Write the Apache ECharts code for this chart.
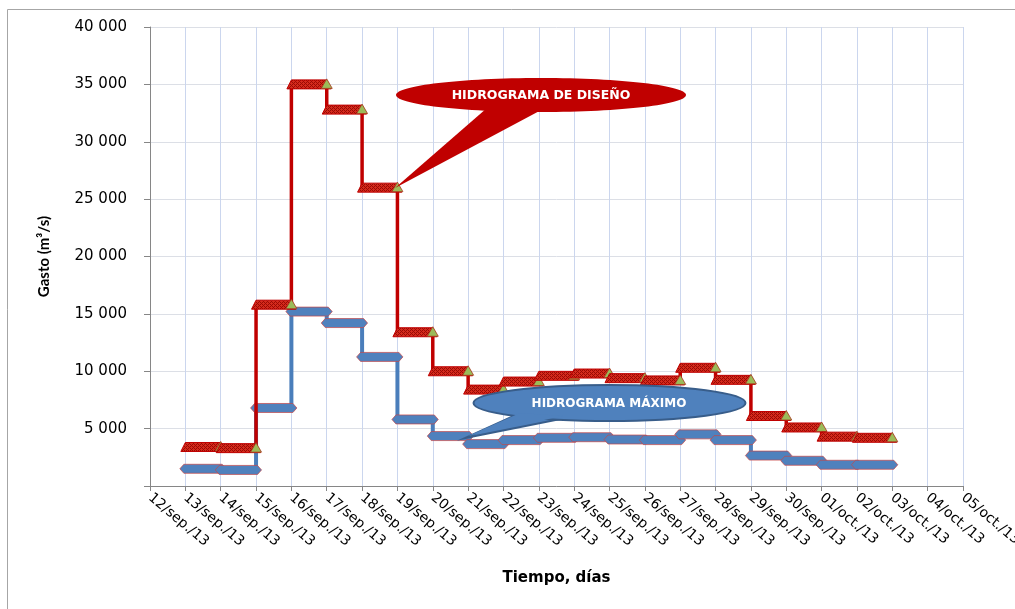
<!DOCTYPE html>
<html>
<head>
<meta charset="utf-8">
<script src="https://cdn.jsdelivr.net/npm/echarts@6/dist/echarts.min.js"></script>
<style>
html,body{margin:0;padding:0;background:#fff;}
#chart{width:1015px;height:609px;}
</style>
</head>
<body>
<div id="chart"></div>
<script>
// ---- data ----
const categories = ['12/sep./13','13/sep./13','14/sep./13','15/sep./13','16/sep./13','17/sep./13',
  '18/sep./13','19/sep./13','20/sep./13','21/sep./13','22/sep./13','23/sep./13','24/sep./13',
  '25/sep./13','26/sep./13','27/sep./13','28/sep./13','29/sep./13','30/sep./13','01/oct./13',
  '02/oct./13','03/oct./13','04/oct./13','05/oct./13'];
// value held from each day to the next (m3/s)
const designFlow = [null, 3400, 3300, 15800, 35000, 32800, 26000, 13400, 10000, 8400, 9100, 9600,
  9800, 9400, 9200, 10300, 9250, 6100, 5100, 4300, 4200, null, null, null];
const maxFlow = [null, 1500, 1400, 6800, 15200, 14200, 11250, 5800, 4350, 3650, 4000, 4200,
  4250, 4050, 4000, 4500, 4000, 2650, 2200, 1850, 1850, null, null, null];
const yMin = 0, yMax = 40000, yStep = 5000;
const designLabel = 'HIDROGRAMA DE DISEÑO';
const maxLabel = 'HIDROGRAMA MÁXIMO';

// ---- hatch pattern for design bands ----
const pc = document.createElement('canvas');
pc.width = 4; pc.height = 4;
const pctx = pc.getContext('2d');
pctx.fillStyle = '#d42a1c'; pctx.fillRect(0,0,4,4);
pctx.fillStyle = '#9a0a04';
for (let x = 0; x < 4; x++) for (let y = 0; y < 4; y++) if ((x + y) % 4 === 0 || (x - y + 4) % 4 === 2 && x % 2 === 0) pctx.fillRect(x,y,1,1);
const redPattern = {image: pc, repeat: 'repeat'};

function toItems(vals){
  const out = [];
  vals.forEach((v,i)=>{ if (v != null) out.push([i, v]); });
  return out;
}

function stepRenderer(vals, kind){
  return function(params, api){
    const i = api.value(0), v = api.value(1);
    const prev = vals[i-1];
    const a = api.coord([i, v]);
    const b = api.coord([i+1, v]);
    const ch = [];
    if (prev != null && prev !== v) {
      const p = api.coord([i, prev]);
      ch.push({type:'line', z2: 0,
        shape:{x1:a[0], y1:p[1], x2:a[0], y2:a[1]},
        style:{stroke: kind === 'red' ? '#c00000' : '#4a7ebb', lineWidth: kind === 'red' ? 3.5 : 4}});
    }
    const h = 4.5;
    if (kind === 'red') {
      ch.push({type:'polygon', z2: 1,
        shape:{points:[[a[0], a[1]-h],[b[0], b[1]-h],[b[0]+4.5, b[1]+h],[a[0]-4.5, a[1]+h]]},
        style:{fill: redPattern, stroke:'#c00000', lineWidth:1}});
      ch.push({type:'polygon', z2: 1,
        shape:{points:[[b[0], b[1]-5.5],[b[0]+5.5, b[1]+4],[b[0]-5.5, b[1]+4]]},
        style:{fill:'#9bbb59', stroke:'#a83a20', lineWidth:0.8}});
    } else {
      ch.push({type:'polygon', z2: 1,
        shape:{points:[[a[0]-5.5, a[1]],[a[0]-1.5, a[1]-h],[b[0]+1.5, b[1]-h],[b[0]+5.5, b[1]],[b[0]+1.5, b[1]+h],[a[0]-1.5, a[1]+h]]},
        style:{fill:'#4f81bd', stroke:'rgba(200,70,70,0.7)', lineWidth:1}});
    }
    return {type:'group', children: ch};
  };
}

const chart = echarts.init(document.getElementById('chart'), null, {renderer:'canvas'});
const font = 'DejaVu Sans';
chart.setOption({
  animation: false,
  backgroundColor: '#ffffff',
  grid: {left:150, right:52, top:27, bottom:123, containLabel:false, outerBoundsMode:'none'},
  xAxis: {
    type:'category', data: categories, boundaryGap:false,
    name:'Tiempo, días', nameLocation:'middle', nameGap:85,
    nameTextStyle:{fontFamily:font, fontWeight:'bold', fontSize:15, color:'#000'},
    axisLine:{show:true, lineStyle:{color:'#868686', width:1}},
    axisTick:{show:true, interval:0, length:5, lineStyle:{color:'#868686'}},
    axisLabel:{interval:0, rotate:-40, margin:10, fontFamily:font, fontSize:14, color:'#000', hideOverlap:false},
    splitLine:{show:true, interval:0, lineStyle:{color:'#cbd6ee', width:1}}
  },
  yAxis: {
    type:'value', min:yMin, max:yMax, interval:yStep,
    name:'Gasto (m³/s)', nameLocation:'middle', nameGap:98,
    nameTextStyle:{fontFamily:'Lato', fontWeight:'bold', fontSize:15, color:'#000'},
    axisLine:{show:true, lineStyle:{color:'#868686', width:1}},
    axisTick:{show:true, length:6, lineStyle:{color:'#868686'}},
    axisLabel:{margin:23, fontFamily:font, fontSize:15, color:'#000',
      formatter: v => v === 0 ? '' : String(v).replace(/\B(?=(\d{3})+(?!\d))/g, ' ')},
    splitLine:{show:true, lineStyle:{color:'#dcdfe6', width:1}}
  },
  series: [
    {type:'custom', name:'Hidrograma máximo', data: toItems(maxFlow), encode:{x:0, y:1},
     renderItem: stepRenderer(maxFlow, 'blue'), z:2, silent:true, clip:false},
    {type:'custom', name:'Hidrograma de diseño', data: toItems(designFlow), encode:{x:0, y:1},
     renderItem: stepRenderer(designFlow, 'red'), z:3, silent:true, clip:false}
  ],
  graphic: [
    {type:'rect', silent:true, z:0, shape:{x:7.5, y:9.5, width:1100, height:700},
     style:{fill:'none', stroke:'#a6a6a6', lineWidth:1}},
    // design callout
    {type:'polygon', z:10, shape:{points:[[487,108],[545,108],[395,188]]}, style:{fill:'#c00000'}},
    {type:'ellipse', z:10, shape:{cx:541, cy:95, rx:145, ry:17}, style:{fill:'#c00000'}},
    {type:'text', z:11, x:541, y:96,
     style:{text:designLabel, fill:'#fff', font:'bold 12.5px "DejaVu Sans"', align:'center', verticalAlign:'middle'}},
    // max callout
    {type:'polygon', z:10, shape:{points:[[518,414],[566,418],[465,438]]}, style:{fill:'#4f81bd', stroke:'#385d8a', lineWidth:2}},
    {type:'ellipse', z:10, shape:{cx:609.5, cy:403, rx:136, ry:18}, style:{fill:'#4f81bd', stroke:'#385d8a', lineWidth:2}},
    {type:'polygon', z:10, shape:{points:[[520,413],[563,416],[468,436]]}, style:{fill:'#4f81bd'}},
    {type:'text', z:11, x:609, y:404,
     style:{text:maxLabel, fill:'#fff', font:'bold 12px "DejaVu Sans"', align:'center', verticalAlign:'middle'}}
  ]
});
</script>
</body>
</html>
